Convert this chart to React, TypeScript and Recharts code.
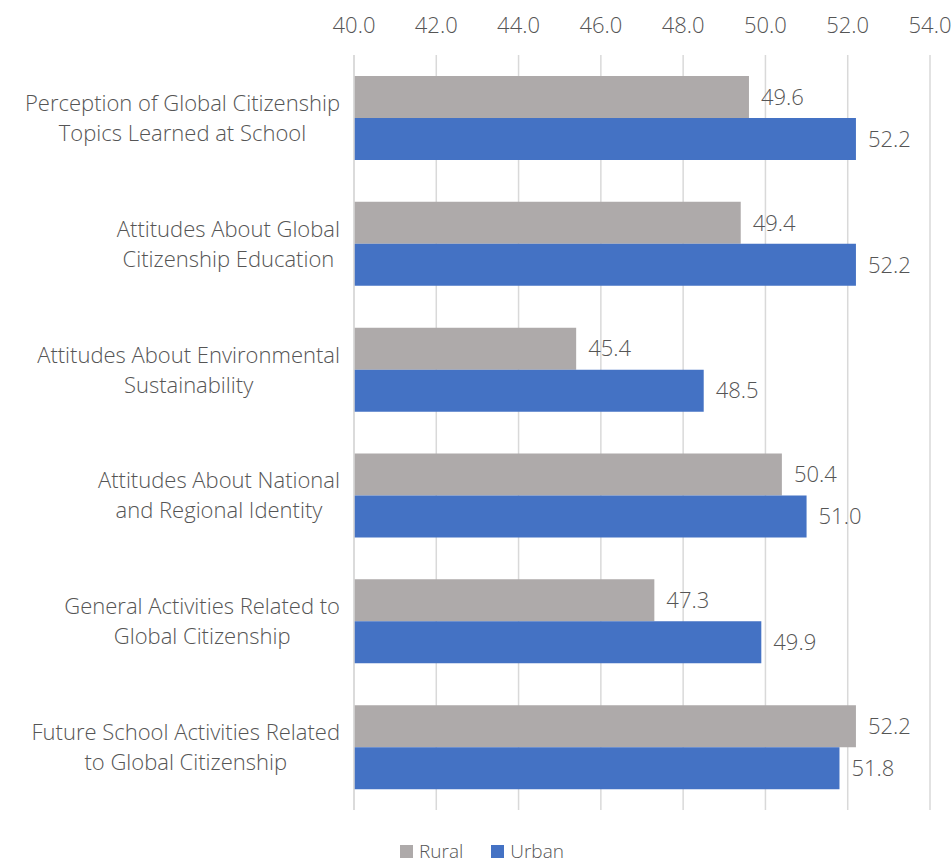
import { BarChart, Bar, XAxis, YAxis, CartesianGrid, LabelList } from "recharts";

// Categories, top to bottom
const CATEGORIES = [
    ["Perception of Global Citizenship", "Topics Learned at School"],
    ["Attitudes About Global", "Citizenship Education"],
    ["Attitudes About Environmental", "Sustainability"],
    ["Attitudes About National", "and Regional Identity"],
    ["General Activities Related to", "Global Citizenship"],
    ["Future School Activities Related", "to Global Citizenship"],
];

const RURAL = [49.6, 49.4, 45.4, 50.4, 47.3, 52.2];
const URBAN = [52.2, 52.2, 48.5, 51.0, 49.9, 51.8];

const X_TICKS = [40, 42, 44, 46, 48, 50, 52, 54];

const RURAL_COLOR = "#AEAAAA";
const URBAN_COLOR = "#4472C4";
const TEXT_COLOR = "#555555";
const FONT = "'Open Sans', 'Noto Sans', sans-serif";
const CAT_FONT_SIZE = 22;
const CAT_LINE = 30;

// measure text so each two-line label is centred as a block, right-aligned to the axis
let measureCtx: CanvasRenderingContext2D | null = null;
const textWidth = (s: string) => {
    if (!measureCtx) {
        measureCtx = document.createElement("canvas").getContext("2d");
    }
    if (!measureCtx) return s.length * CAT_FONT_SIZE * 0.5;
    measureCtx.font = `300 ${CAT_FONT_SIZE}px 'Open Sans'`;
    return measureCtx.measureText(s).width;
};

const chartData = CATEGORIES.map((lines, i) => ({
    name: lines.join(" "),
    rural: RURAL[i],
    urban: URBAN[i],
}));

const TopTick = ({ x, y, payload }: any) => (
    <text
        x={x}
        y={y - 14}
        textAnchor="middle"
        fill={TEXT_COLOR}
        fontSize={22}
        fontWeight={300}
        fontFamily={FONT}
    >
        {Number(payload.value).toFixed(1)}
    </text>
);

const CategoryTick = ({ x, y, index }: any) => {
    const lines = CATEGORIES[index] || [];
    const right = x - 6;
    const maxW = Math.max(...lines.map(textWidth));
    const cx = right - maxW / 2;
    return (
        <text
            x={cx}
            y={y}
            textAnchor="middle"
            fill={TEXT_COLOR}
            fontSize={CAT_FONT_SIZE}
            fontWeight={300}
            fontFamily={FONT}
        >
            <tspan x={cx} dy={-CAT_LINE / 2 + 8}>{lines[0]}</tspan>
            <tspan x={cx} dy={CAT_LINE}>{lines[1]}</tspan>
        </text>
    );
};

const LegendRow = () => (
    <div
        style={{
            position: "absolute",
            left: 400,
            top: 838,
            height: 26,
            display: "flex",
            alignItems: "center",
            gap: 28,
            fontFamily: FONT,
            fontWeight: 300,
            fontSize: 19,
            color: TEXT_COLOR,
        }}
    >
        {[
            { name: "Rural", color: RURAL_COLOR },
            { name: "Urban", color: URBAN_COLOR },
        ].map((it) => (
            <div key={it.name} style={{ display: "flex", alignItems: "center", gap: 6 }}>
                <span style={{ width: 13, height: 13, background: it.color, display: "inline-block" }} />
                <span>{it.name}</span>
            </div>
        ))}
    </div>
);

export default function App() {
    return (
        <div style={{ position: "absolute", left: 0, top: 0, width: 952, height: 863, background: "#fff" }}>
            <BarChart
                width={952}
                height={863}
                data={chartData}
                layout="vertical"
                margin={{ top: 25, right: 22, bottom: 53, left: 0 }}
                barGap={0}
                barSize={42}
            >
                <CartesianGrid horizontal={false} stroke="#D9D9D9" strokeWidth={1.5} />
                <XAxis
                    type="number"
                    orientation="top"
                    domain={[40, 54]}
                    ticks={X_TICKS}
                    interval={0}
                    axisLine={false}
                    tickLine={false}
                    height={30}
                    tick={<TopTick />}
                    allowDataOverflow
                />
                <YAxis
                    type="category"
                    dataKey="name"
                    width={354}
                    axisLine={{ stroke: "#D9D9D9", strokeWidth: 1.5 }}
                    tickLine={false}
                    interval={0}
                    tick={<CategoryTick />}
                />
                <Bar dataKey="rural" name="Rural" fill={RURAL_COLOR} isAnimationActive={false}>
                    <LabelList
                        dataKey="rural"
                        position="right"
                        offset={12}
                        fill={TEXT_COLOR}
                        fontSize={22}
                        fontWeight={300}
                        fontFamily={FONT}
                        formatter={(v: any) => Number(v).toFixed(1)}
                    />
                </Bar>
                <Bar dataKey="urban" name="Urban" fill={URBAN_COLOR} isAnimationActive={false}>
                    <LabelList
                        dataKey="urban"
                        position="right"
                        offset={12}
                        fill={TEXT_COLOR}
                        fontSize={22}
                        fontWeight={300}
                        fontFamily={FONT}
                        formatter={(v: any) => Number(v).toFixed(1)}
                    />
                </Bar>
            </BarChart>
            <LegendRow />
        </div>
    );
}
